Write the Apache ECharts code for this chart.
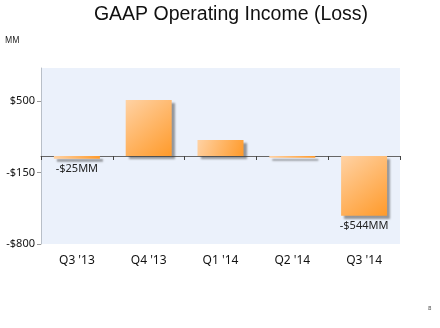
<!DOCTYPE html>
<html><head><meta charset="utf-8">
<script src="https://cdn.jsdelivr.net/npm/echarts@6/dist/echarts.min.js"></script>
<style>html,body{margin:0;padding:0;background:#fff}#c{width:440px;height:328px}</style>
</head><body><div id="c"></div>
<script>
const categories = ["Q3 '13", "Q4 '13", "Q1 '14", "Q2 '14", "Q3 '14"];
const values = [-25, 510, 146, -15, -544];
const barLabels = ["-$25MM", "", "", "", "-$544MM"];
const yTickLabels = {"500": "$500", "-150": "-$150", "-800": "-$800"};

const chart = echarts.init(document.getElementById('c'));
const font = "'Noto Sans', sans-serif";
chart.setOption({
  animation: false,
  textStyle: {fontFamily: font},
  title: {
    text: 'GAAP Operating Income (Loss)',
    left: 226, textAlign: 'center', top: 0,
    textStyle: {fontFamily: "'Liberation Sans', Arial, sans-serif", fontSize: 19.5, fontWeight: 'normal', color: '#111'}
  },
  graphic: [
    {type: 'text', left: 5, top: 37, style: {text: 'MM', fontSize: 8, fill: '#222', fontFamily: font}},
    {type: 'text', left: 428, top: 305, style: {text: '8', fontSize: 6, fill: '#444', fontFamily: font}}
  ],
  grid: {left: 41, right: 40, top: 68, bottom: 84, show: true, backgroundColor: '#EBF1FB', borderWidth: 0},
  xAxis: {
    type: 'category', data: categories,
    axisLine: {onZero: true, lineStyle: {color: '#666', width: 1}},
    axisTick: {show: true, length: 4, lineStyle: {color: '#444'}},
    axisLabel: {color: '#111', fontSize: 12, fontFamily: font, margin: 11},
    position: 'bottom'
  },
  yAxis: {
    type: 'value', min: -800, max: 800, interval: 650,
    splitLine: {show: false},
    axisLine: {show: true, lineStyle: {color: '#B8BFC8'}},
    axisTick: {show: true, length: 4, lineStyle: {color: '#999'}},
    axisLabel: {
      showMaxLabel: false,
      formatter: function (v) { return yTickLabels[String(v)] || ''; },
      color: '#111', fontSize: 11, fontFamily: font, margin: 6
    }
  },
  series: [{
    type: 'bar',
    data: values.map(function (v, i) {
      return {
        value: v,
        label: {show: barLabels[i] !== '', formatter: barLabels[i], position: 'bottom', distance: 5,
                 color: '#222', fontSize: 11, fontFamily: font}
      };
    }),
    barWidth: 46,
    itemStyle: {
      color: {type: 'linear', x: 0, y: 0, x2: 1, y2: 1,
        colorStops: [{offset: 0, color: '#FFD2A4'}, {offset: 1, color: '#FF9A2A'}]},
      shadowColor: 'rgba(60,60,60,0.5)', shadowOffsetX: 3, shadowOffsetY: 3, shadowBlur: 2
    }
  }]
});
</script></body></html>
